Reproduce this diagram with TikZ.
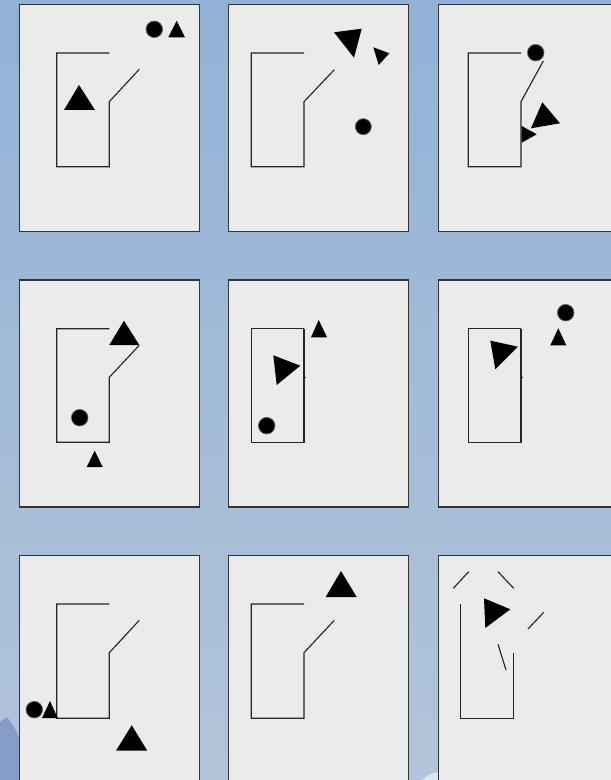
\documentclass[tikz,border=0pt]{standalone}
\definecolor{skytop}{RGB}{146,178,214}
\definecolor{skybot}{RGB}{178,196,217}
\definecolor{hill}{RGB}{134,158,199}
\definecolor{panelgray}{RGB}{235,235,235}
\begin{document}
\begin{tikzpicture}[x=0.02cm, y=-0.02cm,
    panel/.style={fill=panelgray, draw=black!80, line width=0.6pt},
    wire/.style={draw=black!85, line width=0.65pt},
    dot/.style={fill=black, draw=black!60, line width=0.4pt}]
        \useasboundingbox (0,0) rectangle (611,780);
        \clip (0,0) rectangle (611,780);

        % Background
        \shade[top color=skytop, bottom color=skybot] (0,0) rectangle (611,780);
        \fill[hill] (0,722) -- (7,717) -- (13,725) -- (19,737) -- (19,780) -- (0,780) -- cycle;
        \fill[white!55!skybot] (422,780) -- (430,774) -- (438,772) -- (438,780) -- cycle;

        % Panels
        \foreach \px in {19.3,228.7,438.3}
            \foreach \py in {4.7,280,555.7}
                \filldraw[panel] (\px,\py) rectangle ++(180,227);

        % Panel 1
        \draw[wire] (109.3,53) -- (56.7,53) -- (56.7,166.7) -- (109.3,166.7) -- (109.3,101.7) -- (139.3,69.3);
        \fill (79,85) -- (64,110) -- (95,110) -- cycle;
        \filldraw[dot] (154.3,29.3) circle (1.66mm);
        \fill (176.7,20.7) -- (168.3,37.3) -- (185,37.3) -- cycle;

        % Panel 2
        \draw[wire] (304,53) -- (251.3,53) -- (251.3,166.7) -- (304,166.7) -- (304,101.7) -- (334.3,69.7);
        \fill (334,32.3) -- (361.7,28.7) -- (354,57.7) -- cycle;
        \fill (373.3,47.3) -- (389.3,53.3) -- (378.7,65) -- cycle;
        \filldraw[dot] (363.3,126.7) circle (1.6mm);

        % Panel 3
        \draw[wire] (521,53) -- (468.3,53) -- (468.3,166.7) -- (521,166.7) -- (521,101.7) -- (543.3,61);
        \filldraw[dot] (535.7,52.7) circle (1.66mm);
        \fill (542.3,102.3) -- (560,123.3) -- (531,128.3) -- cycle;
        \fill (521.7,126) -- (536.7,134.3) -- (521.7,142.7) -- cycle;

        % Panel 4
        \draw[wire] (109.3,328.7) -- (56.7,328.7) -- (56.7,442.3) -- (109.3,442.3) -- (109.3,377.3) -- (139.3,345.3);
        \fill (124,320.7) -- (109.3,345) -- (139.3,345) -- cycle;
        \filldraw[dot] (79.7,417.7) circle (1.66mm);
        \fill (94.7,450.7) -- (86.7,467) -- (102.7,467) -- cycle;

        % Panel 5
        \draw[wire] (304,328.7) -- (251.3,328.7) -- (251.3,442.3) -- (304,442.3) -- (304,328.7);
        \draw[wire] (304,377.3) -- ++(1.5,0);
        \fill (318.7,320) -- (311,337.3) -- (327,337.3) -- cycle;
        \fill (273.3,355.3) -- (300.3,365.7) -- (276.7,385) -- cycle;
        \filldraw[dot] (266.7,425.7) circle (1.66mm);

        % Panel 6
        \draw[wire] (521,328.7) -- (468.3,328.7) -- (468.3,442.3) -- (521,442.3) -- (521,328.7);
        \draw[wire] (521,377.3) -- ++(1.5,0);
        \fill (490.3,340.7) -- (518,346.7) -- (495.3,369.3) -- cycle;
        \filldraw[dot] (565.7,312.7) circle (1.66mm);
        \fill (558.3,328.3) -- (550.3,345.3) -- (566.3,345.3) -- cycle;

        % Panel 7
        \draw[wire] (109.3,604) -- (56.7,604) -- (56.7,718.3) -- (109.3,718.3) -- (109.3,652.7) -- (139.3,620.3);
        \filldraw[dot] (34.3,709.7) circle (1.66mm);
        \fill (50,701) -- (42,718) -- (57.7,718) -- cycle;
        \fill (131.7,725.3) -- (116,750.7) -- (147.3,750.7) -- cycle;

        % Panel 8
        \draw[wire] (304,604) -- (251.3,604) -- (251.3,718.3) -- (304,718.3) -- (304,652.7) -- (334.3,620.3);
        \fill (341,571) -- (325.7,597) -- (356.7,597) -- cycle;

        % Panel 9
        \draw[wire] (460.7,604) -- (460.7,718.3) -- (513.3,718.3) -- (513.3,652.7);
        \draw[wire] (453.3,588.3) -- (468.7,571.7);
        \draw[wire] (498,571.7) -- (513.7,588.3);
        \draw[wire] (528,629) -- (543.7,612.3);
        \draw[wire] (498,644.3) -- (506,670);
        \fill (484,598.3) -- (510.3,609.3) -- (485.3,628) -- cycle;
    \end{tikzpicture}
\end{document}
